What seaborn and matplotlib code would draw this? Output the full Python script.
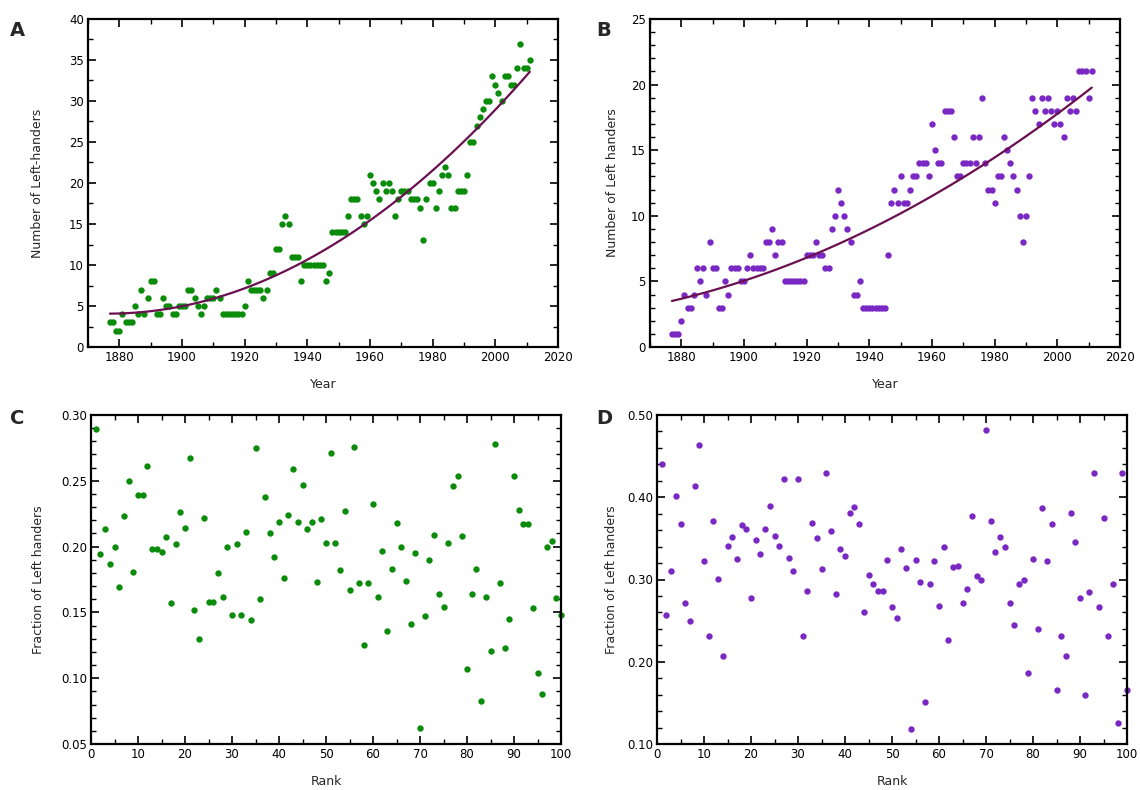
import numpy as np
import pandas as pd
import matplotlib
matplotlib.use("Agg")
import matplotlib.pyplot as plt
from matplotlib.ticker import MultipleLocator, FormatStrFormatter
import seaborn as sns

# ---------------- data ----------------
years = list(range(1877, 2012))

lefties_a = [
    3, 3, 2,
    2, 4, 3, 3, 3, 5, 4, 7, 4, 6,
    8, 8, 4, 4, 6, 5, 5, 4, 4, 5,
    5, 5, 7, 7, 6, 5, 4, 5, 6, 6,
    6, 7, 6, 4, 4, 4, 4, 4, 4, 4,
    5, 8, 7, 7, 7, 7, 6, 7, 9, 9,
    12, 12, 15, 16, 15, 11, 11, 11, 8, 10,
    10, 10, 10, 10, 10, 10, 8, 9, 14, 14,
    14, 14, 14, 16, 18, 18, 18, 16, 15, 16,
    21, 20, 19, 18, 20, 19, 20, 19, 16, 18,
    19, 19, 19, 18, 18, 18, 17, 13, 18, 20,
    20, 17, 19, 21, 22, 21, 17, 17, 19, 19,
    19, 21, 25, 25, 27, 28, 29, 30, 30, 33,
    32, 31, 30, 33, 33, 32, 32, 34, 37, 34,
    34, 35,
]

lefties_b = [
    1, 1, 1,
    2, 4, 3, 3, 4, 6, 5, 6, 4, 8,
    6, 6, 3, 3, 5, 4, 6, 6, 6, 5,
    5, 6, 7, 6, 6, 6, 6, 8, 8, 9,
    7, 8, 8, 5, 5, 5, 5, 5, 5, 5,
    7, 7, 7, 8, 7, 7, 6, 6, 9, 10,
    12, 11, 10, 9, 8, 4, 4, 5, 3, 3,
    3, 3, 3, 3, 3, 3, 7, 11, 12, 11,
    13, 11, 11, 12, 13, 13, 14, 14, 14, 13,
    17, 15, 14, 14, 18, 18, 18, 16, 13, 13,
    14, 14, 14, 16, 14, 16, 19, 14, 12, 12,
    11, 13, 13, 16, 15, 14, 13, 12, 10, 8,
    10, 13, 19, 18, 17, 19, 18, 19, 18, 17,
    18, 17, 16, 19, 18, 19, 18, 21, 21, 21,
    19, 21,
]

ranks = list(range(1, 101))

fraction_c = [
    0.289, 0.194, 0.213, 0.187, 0.200, 0.169, 0.223, 0.250, 0.181, 0.239,
    0.239, 0.261, 0.198, 0.198, 0.196, 0.207, 0.157, 0.202, 0.226, 0.214,
    0.267, 0.152, 0.130, 0.222, 0.158, 0.158, 0.180, 0.162, 0.200, 0.148,
    0.202, 0.148, 0.211, 0.144, 0.275, 0.160, 0.238, 0.210, 0.192, 0.219,
    0.176, 0.224, 0.259, 0.219, 0.247, 0.213, 0.219, 0.173, 0.221, 0.203,
    0.271, 0.203, 0.182, 0.227, 0.167, 0.276, 0.172, 0.125, 0.172, 0.232,
    0.162, 0.197, 0.136, 0.183, 0.218, 0.200, 0.174, 0.141, 0.195, 0.062,
    0.147, 0.190, 0.209, 0.164, 0.154, 0.203, 0.246, 0.254, 0.208, 0.107,
    0.164, 0.183, 0.083, 0.162, 0.121, 0.278, 0.172, 0.123, 0.145, 0.254,
    0.228, 0.217, 0.217, 0.153, 0.104, 0.088, 0.200, 0.204, 0.161, 0.148,
]

fraction_d = [
    0.440, 0.257, 0.310, 0.401, 0.368, 0.271, 0.250, 0.414, 0.464, 0.322,
    0.231, 0.371, 0.301, 0.207, 0.341, 0.352, 0.325, 0.366, 0.362, 0.278,
    0.348, 0.331, 0.361, 0.389, 0.353, 0.341, 0.422, 0.326, 0.310, 0.422,
    0.231, 0.286, 0.369, 0.351, 0.313, 0.430, 0.359, 0.282, 0.337, 0.328,
    0.381, 0.388, 0.368, 0.261, 0.306, 0.295, 0.286, 0.286, 0.324, 0.266,
    0.253, 0.337, 0.314, 0.118, 0.324, 0.297, 0.151, 0.294, 0.323, 0.268,
    0.340, 0.227, 0.315, 0.317, 0.271, 0.288, 0.377, 0.304, 0.300, 0.482,
    0.371, 0.333, 0.352, 0.340, 0.272, 0.245, 0.294, 0.300, 0.186, 0.325,
    0.240, 0.387, 0.322, 0.367, 0.166, 0.231, 0.207, 0.381, 0.345, 0.277,
    0.160, 0.285, 0.429, 0.266, 0.375, 0.231, 0.294, 0.125, 0.429, 0.166,
]

# ---------------- style ----------------
sns.set_style("ticks")
plt.rcParams["font.family"] = ["DejaVu Sans"]

GREEN = "#0a8c0a"
PURPLE = "#7a28c4"
FIT = "#6a0f4f"

df_a = pd.DataFrame({"Year": years, "n": lefties_a})
df_b = pd.DataFrame({"Year": years, "n": lefties_b})
df_c = pd.DataFrame({"Rank": ranks, "f": fraction_c})
df_d = pd.DataFrame({"Rank": ranks, "f": fraction_d})

W, H = 1140, 790
fig = plt.figure(figsize=(W / 100, H / 100), dpi=100)

# axes boxes in pixels: left, top, right, bottom
boxes = {
    "A": (88, 19, 558, 347),
    "B": (650, 19, 1120, 347),
    "C": (91, 415, 561, 744),
    "D": (657, 415, 1127, 744),
}
axes = {}
for k, (l, t, r, b) in boxes.items():
    axes[k] = fig.add_axes([l / W, 1 - b / H, (r - l) / W, (b - t) / H])
ax_a, ax_b, ax_c, ax_d = axes["A"], axes["B"], axes["C"], axes["D"]

MS = 21

sns.scatterplot(data=df_a, x="Year", y="n", ax=ax_a, color=GREEN, s=MS,
                linewidth=0, zorder=2, clip_on=False)
sns.regplot(data=df_a, x="Year", y="n", ax=ax_a, order=2, ci=None,
            scatter=False, truncate=True, line_kws=dict(color=FIT, lw=1.6, zorder=3))

sns.scatterplot(data=df_b, x="Year", y="n", ax=ax_b, color=PURPLE, s=MS,
                linewidth=0, zorder=2, clip_on=False)
sns.regplot(data=df_b, x="Year", y="n", ax=ax_b, order=2, ci=None,
            scatter=False, truncate=True, line_kws=dict(color=FIT, lw=1.6, zorder=3))

sns.scatterplot(data=df_c, x="Rank", y="f", ax=ax_c, color=GREEN, s=MS,
                linewidth=0, zorder=2, clip_on=False)
sns.scatterplot(data=df_d, x="Rank", y="f", ax=ax_d, color=PURPLE, s=MS,
                linewidth=0, zorder=2, clip_on=False)

TICK_FS = 8.5
LAB_FS = 9

def style(ax, key, xlim, ylim, xmaj, xmin, ymaj, ymin, xlabel, ylabel, ylab_px):
    ax.set_xlim(*xlim)
    ax.set_ylim(*ylim)
    ax.xaxis.set_major_locator(MultipleLocator(xmaj))
    ax.xaxis.set_minor_locator(MultipleLocator(xmin))
    ax.yaxis.set_major_locator(MultipleLocator(ymaj))
    ax.yaxis.set_minor_locator(MultipleLocator(ymin))
    ax.tick_params(which="both", direction="in", top=True, right=True,
                   labelsize=TICK_FS, colors="black", pad=3)
    ax.tick_params(which="major", length=6, width=1.2)
    ax.tick_params(which="minor", length=3.5, width=1.0)
    for sp in ax.spines.values():
        sp.set_linewidth(1.6)
        sp.set_color("black")
        sp.set_visible(True)
    ax.set_xlabel(xlabel, fontsize=LAB_FS, labelpad=10)
    ax.set_ylabel(ylabel, fontsize=LAB_FS)
    l, t, r, b = boxes[key]
    ax.yaxis.set_label_coords((ylab_px + 6 - l) / (r - l), 0.5)
    ax.grid(False)

style(ax_a, "A", (1870, 2020), (0, 40), 20, 10, 5, 2.5, "Year", "Number of Left-handers", 38)
style(ax_b, "B", (1870, 2020), (0, 25), 20, 10, 5, 1, "Year", "Number of Left handers", 613)
style(ax_c, "C", (0, 100), (0.05, 0.30), 10, 5, 0.05, 0.01, "Rank", "Fraction of Left handers", 39)
style(ax_d, "D", (0, 100), (0.10, 0.50), 10, 5, 0.10, 0.02, "Rank", "Fraction of Left handers", 612)

ax_c.yaxis.set_major_formatter(FormatStrFormatter("%.2f"))
ax_d.yaxis.set_major_formatter(FormatStrFormatter("%.2f"))

for lbl, (x, y) in zip("ABCD", [(10, 30), (596, 30), (10, 418), (596, 418)]):
    fig.text(x / W, 1 - y / H, lbl, fontsize=14, fontweight="bold", ha="left", va="center")

fig.savefig("out.png", dpi=100)
